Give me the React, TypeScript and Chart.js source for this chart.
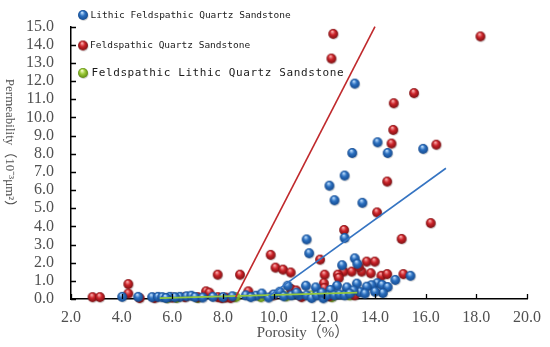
import React, { useEffect, useRef } from "react";
import { Chart, registerables } from "chart.js";

Chart.register(...registerables);

// ---- data ----
const seriesNames = [
  "Lithic Feldspathic Quartz Sandstone",
  "Feldspathic Quartz Sandstone",
  "Feldspathic Lithic Quartz Sandstone",
];

const lithicFeldspathic: [number, number][] = [
  [13.2, 11.86], [14.1, 8.63], [14.5, 8.04], [15.9, 8.27], [13.1, 8.04],
  [12.8, 6.8], [12.2, 6.24], [12.4, 5.44], [13.5, 5.3], [11.3, 3.28],
  [12.8, 3.36], [11.4, 2.52], [13.2, 2.24], [13.3, 1.94], [12.7, 1.86],
  [15.4, 1.28], [14.8, 1.05], [10.55, 0.73], [11.27, 0.73], [11.66, 0.64],
  [12.5, 0.73], [12.9, 0.5], [12.24, 0.5], [13.28, 0.85], [14.09, 0.87],
  [14.28, 0.78], [14.5, 0.66], [13.86, 0.76], [13.67, 0.68], [12.89, 0.64],
  [14.31, 0.33], [13.41, 0.38], [13.15, 0.47],
  [4.02, 0.12], [4.65, 0.12], [5.2, 0.1], [5.43, 0.12], [5.6, 0.1],
  [5.9, 0.12], [6.3, 0.12], [6.56, 0.15], [6.75, 0.18], [6.9, 0.1],
  [7.2, 0.08], [8.37, 0.15], [8.9, 0.2], [9.3, 0.18], [9.53, 0.3],
  [9.8, 0.08], [10.0, 0.25], [10.24, 0.4], [10.4, 0.15], [10.7, 0.2],
  [11.0, 0.2], [11.3, 0.2], [11.5, 0.05], [11.7, 0.2], [11.96, 0.04],
  [12.1, 0.2], [12.4, 0.2], [12.6, 0.25], [12.8, 0.2], [13.0, 0.3],
  [13.6, 0.3], [14.0, 0.4], [10.9, 0.35], [11.9, 0.35], [9.1, 0.1],
  [8.0, 0.1], [7.6, 0.12], [6.1, 0.1], [5.75, 0.06],
];

const feldspathicQuartz: [number, number][] = [
  [12.35, 14.6], [12.28, 13.24], [18.16, 14.46], [15.54, 11.34], [14.74, 10.78],
  [14.72, 9.31], [14.65, 8.56], [16.42, 8.5], [14.48, 6.47], [14.08, 4.77],
  [16.2, 4.18], [12.78, 3.8], [15.05, 3.31], [9.88, 2.43], [11.83, 2.17],
  [10.07, 1.73], [10.37, 1.62], [10.67, 1.46], [7.79, 1.34], [8.67, 1.34],
  [13.67, 2.06], [13.99, 2.06], [12.76, 1.51], [12.53, 1.34], [12.01, 1.34],
  [12.57, 1.16], [11.98, 0.87], [13.08, 1.51], [13.47, 1.51], [13.83, 1.42],
  [14.25, 1.28], [14.48, 1.37], [15.12, 1.37], [13.36, 1.77], [10.69, 0.55],
  [10.89, 0.47], [4.26, 0.82], [4.26, 0.3], [2.85, 0.1], [3.14, 0.1],
  [4.71, 0.05], [7.33, 0.42], [7.46, 0.35], [7.8, 0.1], [7.95, 0.05],
  [8.1, 0.08], [8.3, 0.05], [9.0, 0.42], [9.98, 0.2], [5.3, 0.05],
  [6.0, 0.08], [6.5, 0.1], [7.0, 0.1], [11.1, 0.1], [12.2, 0.15],
  [13.2, 0.2], [12.0, 0.6],
];

const feldspathicLithic: [number, number][] = [
  [6.17, 0.06], [5.8, 0.05], [7.0, 0.06], [8.5, 0.1], [9.5, 0.1],
  [10.5, 0.15], [11.5, 0.2], [12.3, 0.1], [13.0, 0.2],
];

const redTrend: [number, number][] = [[8.5, 0.1], [14.0, 15.0]];
const blueTrend: [number, number][] = [[9.8, 0.15], [16.8, 7.2]];
const greenTrend: [number, number][] = [[5.5, 0.05], [13.3, 0.35]];

const xTickValues = [2, 4, 6, 8, 10, 12, 14, 16, 18, 20];
const yTickValues = [0, 1, 2, 3, 4, 5, 6, 7, 8, 9, 10, 11, 12, 13, 14, 15];

const xTitle = "Porosity（%）";
const yTitle = "Permeability（10⁻³μm²）";

// ---- styles ----
const BLUE = { base: "#2a6fc0", light: "#b5d8fa", dark: "#154a8e", line: "#3574c2" };
const RED = { base: "#cc2228", light: "#f8a8a8", dark: "#7c1114", line: "#c0292c" };
const GREEN = { base: "#9ccb38", light: "#eef8c0", dark: "#5f8a14", line: "#94c83d" };
const SERIF = "'Liberation Serif', 'Noto Sans CJK SC', serif";

function makeSphere(c: { base: string; light: string; dark: string }, r: number) {
  const size = Math.ceil(r * 2 + 4);
  const cv = document.createElement("canvas");
  cv.width = size;
  cv.height = size;
  const ctx = cv.getContext("2d")!;
  const cx = size / 2;
  const cy = size / 2;
  ctx.fillStyle = "rgba(0,0,0,0.16)";
  ctx.beginPath();
  ctx.arc(cx + 0.7, cy + 1, r, 0, Math.PI * 2);
  ctx.fill();
  const g = ctx.createRadialGradient(cx - r * 0.2, cy - r * 0.5, r * 0.1, cx, cy, r);
  g.addColorStop(0, c.light);
  g.addColorStop(0.45, c.base);
  g.addColorStop(1, c.dark);
  ctx.fillStyle = g;
  ctx.beginPath();
  ctx.arc(cx, cy, r, 0, Math.PI * 2);
  ctx.fill();
  return cv;
}

const toPts = (a: [number, number][]) => a.map(([x, y]) => ({ x, y }));

export default function App() {
  const ref = useRef<HTMLCanvasElement>(null);

  useEffect(() => {
    document.body.style.margin = "0";
    const blueS = makeSphere(BLUE, 4.9);
    const redS = makeSphere(RED, 4.9);
    const greenS = makeSphere(GREEN, 4.9);
    const blueL = makeSphere(BLUE, 5);
    const redL = makeSphere(RED, 5);
    const greenL = makeSphere(GREEN, 5);

    const decor = {
      id: "decor",
      afterDraw(chart: any) {
        const { ctx, chartArea } = chart;
        const xs = chart.scales.x;
        const ys = chart.scales.y;
        ctx.save();
        // inward ticks
        ctx.strokeStyle = "#000";
        ctx.lineWidth = 1.3;
        ctx.beginPath();
        xTickValues.forEach((v) => {
          const px = Math.round(xs.getPixelForValue(v)) + 0.5;
          ctx.moveTo(px, chartArea.bottom);
          ctx.lineTo(px, chartArea.bottom - 5);
        });
        yTickValues.forEach((v) => {
          const py = Math.round(ys.getPixelForValue(v)) + 0.5;
          ctx.moveTo(chartArea.left, py);
          ctx.lineTo(chartArea.left + 5, py);
        });
        ctx.stroke();

        // axis titles
        ctx.fillStyle = "#505050";
        ctx.font = "15px " + SERIF;
        ctx.textAlign = "center";
        ctx.textBaseline = "middle";
        ctx.fillText(xTitle, 303, 333);
        ctx.save();
        ctx.translate(9, 146);
        ctx.rotate(Math.PI / 2);
        ctx.font = "13px " + SERIF;
        ctx.fillText(yTitle, 0, 0);
        ctx.restore();

        // legend
        const rows = [
          { img: blueL, y: 15, font: "9.5px 'DejaVu Sans Mono', monospace", ls: "0px", tx: 90.5 },
          { img: redL, y: 45.5, font: "9.5px 'DejaVu Sans Mono', monospace", ls: "0px", tx: 90 },
          { img: greenL, y: 73, font: "11px 'DejaVu Sans Mono', monospace", ls: "0.6px", tx: 91.5 },
        ];
        rows.forEach((r, i) => {
          ctx.drawImage(r.img, 83 - r.img.width / 2, r.y - r.img.height / 2);
          ctx.fillStyle = "#1a1a1a";
          ctx.font = r.font;
          (ctx as any).letterSpacing = r.ls;
          ctx.textAlign = "left";
          ctx.textBaseline = "middle";
          ctx.fillText(seriesNames[i], r.tx, r.y + 0.5);
        });
        (ctx as any).letterSpacing = "0px";
        ctx.restore();
      },
    };

    const lineDs = (data: [number, number][], color: string) => ({
      type: "scatter" as const,
      data: toPts(data),
      showLine: true,
      borderColor: color,
      borderWidth: 1.6,
      pointRadius: 0,
      pointHoverRadius: 0,
      fill: false,
      order: 0,
    });

    const chart = new Chart(ref.current!, {
      type: "scatter",
      data: {
        datasets: [
          lineDs(redTrend, RED.line),
          lineDs(blueTrend, BLUE.line),
          lineDs(greenTrend, GREEN.line),
          {
            label: seriesNames[0],
            data: toPts(lithicFeldspathic),
            pointStyle: blueS as any,
            order: 1,
          },
          {
            label: seriesNames[1],
            data: toPts(feldspathicQuartz),
            pointStyle: redS as any,
            order: 2,
          },
          {
            label: seriesNames[2],
            data: toPts(feldspathicLithic),
            pointStyle: greenS as any,
            order: 3,
          },
        ],
      },
      options: {
        responsive: false,
        animation: false,
        clip: false as any,
        layout: { padding: { top: 10, right: 15, left: 0, bottom: 0 } },
        plugins: { legend: { display: false }, tooltip: { enabled: false } },
        scales: {
          x: {
            type: "linear",
            min: 2,
            max: 20,
            afterFit: (s: any) => {
              s.height = 48;
            },
            afterBuildTicks: (s: any) => {
              s.ticks = xTickValues.map((v) => ({ value: v }));
            },
            ticks: {
              callback: (v: any) => Number(v).toFixed(1),
              font: { family: SERIF, size: 16 },
              color: "#505050",
              padding: 9,
              maxRotation: 0,
              autoSkip: false,
            },
            grid: { display: false, drawTicks: false },
            border: { display: true, color: "#000", width: 1.5 },
          },
          y: {
            type: "linear",
            min: 0,
            max: 15,
            afterFit: (s: any) => {
              s.width = 71;
            },
            afterBuildTicks: (s: any) => {
              s.ticks = yTickValues.map((v) => ({ value: v }));
            },
            ticks: {
              callback: (v: any) => Number(v).toFixed(1),
              font: { family: SERIF, size: 16 },
              color: "#505050",
              padding: 17,
              autoSkip: false,
            },
            grid: { display: false, drawTicks: false },
            border: { display: true, color: "#000", width: 1.5 },
          },
        },
      },
      plugins: [decor],
    });
    return () => chart.destroy();
  }, []);

  return (
    <div style={{ position: "absolute", left: 0, top: 0, width: 550, height: 347 }}>
      <canvas ref={ref} width={550} height={347} />
    </div>
  );
}
